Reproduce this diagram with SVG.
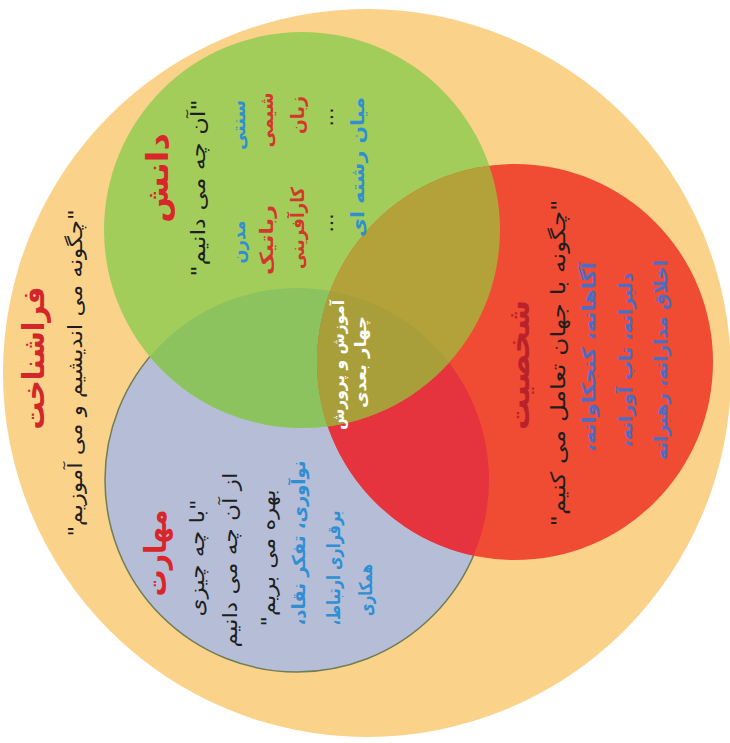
<svg xmlns="http://www.w3.org/2000/svg" width="730" height="743" viewBox="0 0 730 743">
<style>
.t{font-family:"DejaVu Sans",sans-serif;text-anchor:middle;dominant-baseline:central;direction:rtl}
.ttl{font-weight:bold;font-size:30px}
.q{font-size:20px;fill:#1e1e1e}
.blue{font-size:18px;fill:#2f8fd2;font-weight:bold}
.pblue{font-size:18px;fill:#4b6ec4;font-weight:bold}
.red{font-size:18px;fill:#d2362c;font-weight:bold}
.white{font-size:16px;fill:#ffffff;font-weight:bold}
</style>
<defs>
<clipPath id="cG"><circle cx="302" cy="230" r="198"/></clipPath>
<clipPath id="cB"><circle cx="297" cy="480" r="192"/></clipPath>
<clipPath id="cR"><circle cx="515" cy="362" r="198"/></clipPath>
</defs>
<rect width="730" height="743" fill="#ffffff"/>
<g id="metacognition">
<circle cx="367" cy="373" r="364" fill="#fad28a"/>
<text class="t ttl" fill="#d3262b" transform="rotate(-90 33 358)" x="33" y="358" textLength="143" lengthAdjust="spacingAndGlyphs">فراشناخت</text>
<text class="t q" transform="rotate(-90 75 373)" x="75" y="373" textLength="327" lengthAdjust="spacingAndGlyphs">"چگونه می اندیشیم و می آموزیم"</text>
</g>
<g id="skills-circle">
<circle cx="297" cy="480" r="192" fill="#b5bed6" stroke="#6f7d55" stroke-width="1.5"/>
</g>
<g id="knowledge-circle">
<circle cx="302" cy="230" r="198" fill="#a3cd5b"/>
</g>
<g id="character-circle">
<circle cx="515" cy="362" r="198" fill="#f04b33"/>
</g>
<g id="overlaps">
<g clip-path="url(#cB)"><circle cx="302" cy="230" r="198" fill="#8dc35f"/><circle cx="515" cy="362" r="198" fill="#e5343d"/></g>
<g clip-path="url(#cG)"><circle cx="515" cy="362" r="198" fill="#b3a23a"/></g>
<g clip-path="url(#cG)"><g clip-path="url(#cR)"><circle cx="297" cy="480" r="192" fill="#a89f3b"/></g></g>
</g>
<g id="knowledge">
<text class="t ttl" fill="#d9262b" transform="rotate(-90 157 178)" x="157" y="178" textLength="90" lengthAdjust="spacingAndGlyphs">دانش</text>
<text class="t q" transform="rotate(-90 198 188)" x="198" y="188" textLength="177" lengthAdjust="spacingAndGlyphs">"آن چه می دانیم"</text>
<text class="t blue" transform="rotate(-90 238 125)" x="238" y="125" textLength="50" lengthAdjust="spacingAndGlyphs">سنتی</text>
<text class="t blue" transform="rotate(-90 238 242)" x="238" y="242" textLength="43" lengthAdjust="spacingAndGlyphs">مدرن</text>
<text class="t red" transform="rotate(-90 266 120)" x="266" y="120" textLength="55" lengthAdjust="spacingAndGlyphs">شیمی</text>
<text class="t red" transform="rotate(-90 266 240)" x="266" y="240" textLength="70" lengthAdjust="spacingAndGlyphs">رباتیک</text>
<text class="t red" transform="rotate(-90 297 115)" x="297" y="115" textLength="38" lengthAdjust="spacingAndGlyphs">زبان</text>
<text class="t red" transform="rotate(-90 297 228)" x="297" y="228" textLength="82" lengthAdjust="spacingAndGlyphs">کارآفرینی</text>
<text class="t q" transform="rotate(-90 326 117)" x="326" y="117" font-size="16">...</text>
<text class="t q" transform="rotate(-90 326 223)" x="326" y="223" font-size="16">...</text>
<text class="t blue" transform="rotate(-90 357 167)" x="357" y="167" textLength="140" lengthAdjust="spacingAndGlyphs">میان رشته ای</text>
</g>
<g id="center">
<text class="t white" transform="rotate(-90 338 365)" x="338" y="365" textLength="130" lengthAdjust="spacingAndGlyphs">آموزش و پرورش</text>
<text class="t white" transform="rotate(-90 360 362)" x="360" y="362" textLength="92" lengthAdjust="spacingAndGlyphs">چهار بعدی</text>
</g>
<g id="character">
<text class="t ttl" fill="#b8232b" transform="rotate(-90 518 365)" x="518" y="365" textLength="130" lengthAdjust="spacingAndGlyphs">شخصیت</text>
<text class="t q" transform="rotate(-90 558 363)" x="558" y="363" textLength="327" lengthAdjust="spacingAndGlyphs">"چگونه با جهان تعامل می کنیم"</text>
<text class="t pblue" transform="rotate(-90 588 357)" x="588" y="357" textLength="190" lengthAdjust="spacingAndGlyphs">آگاهانه، کنجکاوانه،</text>
<text class="t pblue" transform="rotate(-90 625 360)" x="625" y="360" textLength="175" lengthAdjust="spacingAndGlyphs">دلیرانه، تاب آورانه،</text>
<text class="t pblue" transform="rotate(-90 660 360)" x="660" y="360" textLength="200" lengthAdjust="spacingAndGlyphs">اخلاق مدارانه، رهبرانه</text>
</g>
<g id="skills">
<text class="t ttl" fill="#d9262b" transform="rotate(-90 155 553)" x="155" y="553" textLength="87" lengthAdjust="spacingAndGlyphs">مهارت</text>
<text class="t q" transform="rotate(-90 197 558)" x="197" y="558" textLength="117" lengthAdjust="spacingAndGlyphs">"با چه چیزی</text>
<text class="t q" transform="rotate(-90 230 560)" x="230" y="560" textLength="175" lengthAdjust="spacingAndGlyphs">از آن چه می دانیم</text>
<text class="t q" transform="rotate(-90 268 558)" x="268" y="558" textLength="137" lengthAdjust="spacingAndGlyphs">بهره می بریم"</text>
<text class="t blue" transform="rotate(-90 298 543)" x="298" y="543" textLength="165" lengthAdjust="spacingAndGlyphs">نوآوری، تفکر نقاد،</text>
<text class="t blue" transform="rotate(-90 333 568)" x="333" y="568" textLength="115" lengthAdjust="spacingAndGlyphs">برقراری ارتباط،</text>
<text class="t blue" transform="rotate(-90 365 590)" x="365" y="590" textLength="52" lengthAdjust="spacingAndGlyphs">همکاری</text>
</g>
</svg>
